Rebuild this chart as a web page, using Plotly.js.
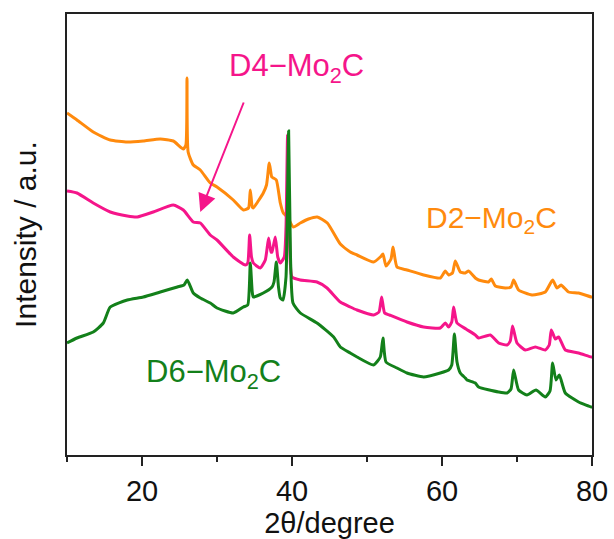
<!DOCTYPE html>
<html>
<head>
<meta charset="utf-8">
<script src="https://cdn.plot.ly/plotly-3.0.1.min.js"></script>
<style>html,body{margin:0;padding:0;background:#fff;}#chart{width:614px;height:539px;}</style>
</head>
<body>
<div id="chart"></div>
<script>
// 2θ (degree) and intensity (a.u., offset stacked)
var d2X = [10.0,11.33,13.5,15.77,18.04,20.17,22.44,24.17,25.51,25.85,26.0,26.15,26.84,27.77,29.1,30.0,32.17,33.51,34.2,34.44,34.7,34.84,35.5,36.17,36.6,36.97,37.3,37.51,37.91,38.44,38.84,39.4,40.17,41.11,42.2,43.37,44.71,46.44,47.77,48.67,50.88,51.77,52.13,52.53,53.2,53.47,54.0,55.33,57.55,59.77,60.44,60.88,61.4,61.77,62.44,63.11,63.55,64.44,64.88,66.2,66.57,67.11,68.44,69.2,69.55,70.21,72.0,73.77,74.75,75.33,75.87,76.88,78.21,79.91,80.0];
var d2Y = [344,337,325,317,315,316,318,316,308,312,379,305,292,287,274,270,257,247,249,267,250,249,256,264,272,294,280,279,277,254,244,240,230,234,238,240,234,213,205,202,195,200,203,191,198,210,190,187,182,179,186,182,184,196,185,184,186,179,177,175,178,171,169,170,177,167,162,165,177,169,172,165,164,160,160];

var d4X = [10.0,11.33,13.5,15.77,18.04,19.37,21.5,24.17,25.51,26.84,27.77,29.1,30.0,32.17,33.77,34.1,34.35,34.6,34.84,35.77,36.44,36.88,37.2,37.33,37.77,38.1,38.44,38.97,39.2,39.41,39.7,40.0,41.11,43.33,44.67,46.44,47.77,48.67,50.88,51.6,51.95,52.35,53.0,55.33,57.55,59.77,60.44,60.88,61.3,61.55,62.0,63.2,64.44,64.88,66.44,67.55,68.67,69.1,69.41,70.0,71.11,72.44,73.77,74.3,74.57,75.11,75.55,76.44,78.21,79.91,80.0];
var d4Y = [266,264,254,245,241,240,245,252,247,235,234,222,217,200,192,194,222,200,194,189,197,219,205,205,220,200,194,200,230,322,210,180,177,175,169,155,150,147,142,145,160,144,142,135,130,129,134,130,135,150,134,128,122,119,122,114,112,116,131,114,107,110,107,112,127,118,120,107,104,100,100];

var d6X = [10.0,11.33,13.5,14.84,15.77,18.04,20.17,22.44,24.71,25.6,26.04,26.84,27.77,29.1,30.0,32.17,33.51,34.1,34.44,34.7,34.84,36.17,37.33,37.6,37.91,38.2,38.44,38.8,39.2,39.55,39.8,40.13,41.11,43.33,45.55,46.44,47.77,48.67,50.88,51.77,52.13,52.53,54.0,55.33,57.55,59.77,60.88,61.3,61.65,62.0,62.44,63.11,63.33,64.44,64.88,67.55,68.67,69.2,69.55,70.21,71.33,72.53,73.77,74.4,74.75,75.2,75.64,76.44,78.21,79.91,80.0];
var d6Y = [114,119,125,134,150,157,160,165,170,172,177,164,159,154,149,144,150,152,194,165,160,164,170,175,195,170,159,157,180,326,200,154,144,134,120,110,104,100,92,100,119,95,89,84,80,84,87,92,123,95,84,79,77,74,70,65,64,68,87,67,62,67,60,66,94,77,82,64,55,50,50];

var seriesNames = ['D2\u2212Mo<sub>2</sub>C','D4\u2212Mo<sub>2</sub>C','D6\u2212Mo<sub>2</sub>C'];
var seriesColors = ['#ff8a0d','#f5158a','#13801a'];

var FONT = 'Liberation Sans, Arial, Helvetica, sans-serif';

var traces = [
  {x:d2X, y:d2Y, name:seriesNames[0]},
  {x:d4X, y:d4Y, name:seriesNames[1]},
  {x:d6X, y:d6Y, name:seriesNames[2]}
].map(function(t,i){
  t.type='scatter'; t.mode='lines';
  t.line={color:seriesColors[i], width:3, shape:'spline', smoothing:0.5};
  t.hoverinfo='x+y';
  return t;
});

var layout = {
  width:614, height:539,
  margin:{l:67, r:22, t:14, b:84, pad:0},
  paper_bgcolor:'#fff', plot_bgcolor:'#fff',
  showlegend:false,
  font:{family:FONT, size:29, color:'#111'},
  xaxis:{
    range:[10,80], tick0:0, dtick:20,
    ticks:'outside', ticklen:9, tickwidth:2, tickcolor:'#222',
    minor:{dtick:10, ticks:'outside', ticklen:5, tickwidth:2, tickcolor:'#222', showgrid:false},
    showline:true, linewidth:2, linecolor:'#222', mirror:true,
    showgrid:false, zeroline:false,
    tickfont:{family:FONT, size:29, color:'#111'},
    title:{text:'2\u03b8/degree', font:{family:FONT, size:29, color:'#111'}, standoff:4}
  },
  yaxis:{
    range:[2,443], showticklabels:false, ticks:'',
    showline:true, linewidth:2, linecolor:'#222', mirror:true,
    showgrid:false, zeroline:false,
    title:{text:'Intensity / a.u.', font:{family:FONT, size:30, color:'#111'}, standoff:20}
  },
  annotations:[
    {x:66.57, y:238, xref:'x', yref:'y', text:seriesNames[0], showarrow:false,
     font:{family:FONT, size:30, color:seriesColors[0]}, xanchor:'center', yanchor:'middle'},
    {x:40.57, y:389, xref:'x', yref:'y', text:seriesNames[1], showarrow:false,
     font:{family:FONT, size:31, color:seriesColors[1]}, xanchor:'center', yanchor:'middle'},
    {x:29.5, y:83, xref:'x', yref:'y', text:seriesNames[2], showarrow:false,
     font:{family:FONT, size:31, color:seriesColors[2]}, xanchor:'center', yanchor:'middle'},
    {x:27.77, y:245, xref:'x', yref:'y', text:'', showarrow:true, ax:44, ay:-111,
     arrowhead:2, arrowsize:1.8, arrowwidth:2, arrowcolor:seriesColors[1]}
  ]
};

Plotly.newPlot('chart', traces, layout, {displayModeBar:false, staticPlot:true});
</script>
</body>
</html>
